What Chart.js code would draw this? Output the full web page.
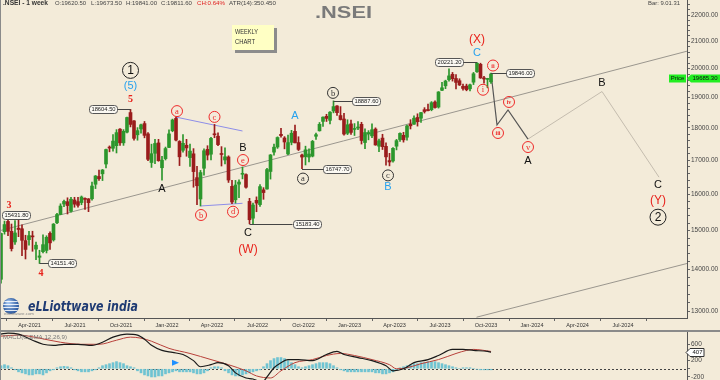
<!DOCTYPE html>
<html><head><meta charset="utf-8">
<script src="https://cdn.jsdelivr.net/npm/chart.js@4.4.0/dist/chart.umd.min.js"></script>
<style>
html,body{margin:0;padding:0;background:#f3ebd9;width:720px;height:380px;overflow:hidden;}
#c1{position:absolute;left:0;top:0;}
#c2{position:absolute;left:0;top:330px;}
</style></head><body>
<canvas id="c1" width="720" height="330"></canvas>
<canvas id="c2" width="720" height="50"></canvas>
<script>
// ---------- DATA ----------
const weeks = ['2021-02-01','2021-02-08','2021-02-15','2021-02-22','2021-03-01','2021-03-08','2021-03-15','2021-03-22','2021-03-29','2021-04-05','2021-04-12','2021-04-19','2021-04-26','2021-05-03','2021-05-10','2021-05-17','2021-05-24','2021-05-31','2021-06-07','2021-06-14','2021-06-21','2021-06-28','2021-07-05','2021-07-12','2021-07-19','2021-07-26','2021-08-02','2021-08-09','2021-08-16','2021-08-23','2021-08-30','2021-09-06','2021-09-13','2021-09-20','2021-09-27','2021-10-04','2021-10-11','2021-10-18','2021-10-25','2021-11-01','2021-11-08','2021-11-15','2021-11-22','2021-11-29','2021-12-06','2021-12-13','2021-12-20','2021-12-27',
'2022-01-03','2022-01-10','2022-01-17','2022-01-24','2022-01-31','2022-02-07','2022-02-14','2022-02-21','2022-02-28','2022-03-07','2022-03-14','2022-03-21','2022-03-28','2022-04-04','2022-04-11','2022-04-18','2022-04-25','2022-05-02','2022-05-09','2022-05-16','2022-05-23','2022-05-30','2022-06-06','2022-06-13','2022-06-20','2022-06-27','2022-07-04','2022-07-11','2022-07-18','2022-07-25','2022-08-01','2022-08-08','2022-08-15','2022-08-22','2022-08-29','2022-09-05','2022-09-12','2022-09-19','2022-09-26','2022-10-03','2022-10-10','2022-10-17','2022-10-24','2022-10-31','2022-11-07','2022-11-14','2022-11-21','2022-11-28','2022-12-05','2022-12-12','2022-12-19','2022-12-26',
'2023-01-02','2023-01-09','2023-01-16','2023-01-23','2023-01-30','2023-02-06','2023-02-13','2023-02-20','2023-02-27','2023-03-06','2023-03-13','2023-03-20','2023-03-27','2023-04-03','2023-04-10','2023-04-17','2023-04-24','2023-05-01','2023-05-08','2023-05-15','2023-05-22','2023-05-29','2023-06-05','2023-06-12','2023-06-19','2023-06-26','2023-07-03','2023-07-10','2023-07-17','2023-07-24','2023-07-31','2023-08-07','2023-08-14','2023-08-21','2023-08-28','2023-09-04','2023-09-11','2023-09-18','2023-09-25','2023-10-02','2023-10-09'];

const openP = [13758,14973,15247,14982,14702,15065,15050,14736,14761,14837,14516,14306,14449,14481,14928,14756,15211,15437,15725,15791,15525,15839,15793,15766,15877,15870,15874,16288,16514,16593,16884,17400,17363,17443,17963,17531,17867,18500,18229,17783,17967,18141,17812,16929,17209,17529,16773,17046,
17388,17913,18308,17575,17301,17456,17077,17193,16481,15868,16757,17329,17181,17810,17740,17183,17006,17097,16227,15845,16290,16579,16570,15800,15335,15830,15710,16127,16151,16662,17244,17401,17797,17683,17188,17546,17891,17540,17157,17102,17094,17122,17737,17910,18212,18376,18246,18552,18719,18402,18289,17831,
18131,17953,17999,18118,17541,17818,17750,17965,17428,17680,17422,16988,16977,17427,17634,17767,17707,18125,18120,18339,18315,18594,18600,18595,18849,18682,19246,19400,19612,19800,19654,19576,19383,19393,19298,19526,19890,20156,19675,19622,19539];
const highP = [14932,15257,15431.8,15177,15273,15336,15155,14878,14984,14984,14697,14486,14890,14864,14967,15190,15469,15733,15835,15901,15915,15915,15915,15952,15900,15879,16349,16543,16701,16722,17340,17436,17793,17947,17977,17948,18350,18604.5,18242,18012,18123,18210,17857,17490,17640,17640,17118,17400,
17944,18286,18351,17599,17794,17640,17490,17352,16816,16694,17344,17442,17703,18115,17842,17414,17378,17132,16404,16400,16415,16794,16594,15886,15749,15927,16275,16190,16752,17172,17490,17719,17992,17726,17777,17925,18096,17722,17187,17428,17348,17607,17838,18176,18363,18443,18529,18887.6,18728,18697,18473,18265,
18252,18142,18202,18183,17972,17916,18134,18005,17645,17800,17529,17207,17381,17639,17842,17863,18090,18267,18389,18459,18508,18662,18777,18864,18887,19202,19524,19595,19991,19867,19795,19645,19458,19458,19458,19867,20221.2,20195,19730,19661,19846];
const lowP = [13661,14906,14865,14467,14636,14840,14350,14264,14617,14460,14248,14151.4,14416,14417,14506,14724,15190,15430,15649,15450,15500,15636,15635,15706,15578,15514,15834,16163,16396,16395,16765,17254,17270,17219,17452,17452,17839,18034,17613,17613,17836,17688,16983,16782,16891,16966,16410,17005,
17384,17880,17590,16837,17244,17119,16810,16203,15711,15671,16555,17006,17004,17691,17443,16824,16888,16340,15735,15750,15903,16444,16172,15183.4,15184,15512,15661,15858,16143,16438,17154,17359,17710,17345,17167,17469,17531,17292,16747.7,16855,16950,17098,17637,17900,18048,18209,18133,18490,18410,18255,17774,17789,
17796,17761,17950,17494,17353,17625,17690,17455,17255,17324,16851,16828,16940,17313,17573,17553,17613,17969,18116,18060,18178,18483,18550,18558,18647,18647,19236,19302,19562,19563,19296,19412,19254,19229,19223,19443,19865,19657,19492,19333,19480];
const closeP = [14924,15163,14982,14529,14938,15031,14744,14507,14867,14835,14617,14341,14631,14823,14677,15175,15436,15670,15799,15683,15860,15722,15690,15923,15856,15763,16238,16529,16450,16705,17324,17369,17585,17853,17532,17895,18338,18114,17671,17916,18102,17765,17026,17196,17511,16985,17003,17354,
17812,18256,17617,17102,17516,17374,17276,16658,16245,16630,17287,17153,17670,17784,17476,17172,17102,16411,15782,16266,16352,16584,16202,15293,15699,15752,16220,16049,16719,17158,17397,17698,17758,17558,17539,17833,17531,17327,17094,17315,17186,17576,17787,18117,18350,18308,18513,18697,18497,18270,17807,18105,
17859,17957,18028,17604,17854,17856,17944,17466,17594,17413,17100,16945,17360,17600,17828,17624,18065,18069,18315,18203,18499,18534,18563,18826,18666,19189,19332,19565,19745,19646,19517,19428,19310,19266,19435,19820,20193,19674,19638,19654,19812];

const quarterDates = ['2021-04-01','2021-07-01','2021-10-01','2022-01-01','2022-04-01','2022-07-01','2022-10-01','2023-01-01','2023-04-01','2023-07-01','2023-10-01','2024-01-01','2024-04-01','2024-07-01','2024-10-01'];
const quarterLabels = ['Apr-2021','Jul-2021','Oct-2021','Jan-2022','Apr-2022','Jul-2022','Oct-2022','Jan-2023','Apr-2023','Jul-2023','Oct-2023','Jan-2024','Apr-2024','Jul-2024',''];
const priceLabelTicks = [13000,14000,15000,16000,17000,18000,19000,20000,21000,22000];
const lastPrice = 19685.30;

// projected path (wave iii, iv, v/A, B, C)
const projDates  = ['2023-10-11','2023-10-23','2023-11-14','2023-12-24','2024-05-20','2024-09-11'];
const projPrices = [19846,18096,18585,17650,19204,16494];
// trend lines
const upperTrendDates = ['2021-02-01','2024-11-06'], upperTrendPrices = [15000,20630];
const lowerTrendDates = ['2023-09-12','2024-11-06'], lowerTrendPrices = [12862,14150];
const triTopDates = ['2022-01-19','2022-06-01'], triTopPrices = [18351,17904];
const triBotDates = ['2022-03-09','2022-06-01'], triBotPrices = [15671,15746];

// MACD panel
const macdHist = [75,100,75,25,-25,-75,-100,-125,-150,-150,-125,-125,-150,-100,-50,-25,25,50,60,50,25,-25,-50,-75,-75,-75,-50,-25,25,75,100,125,150,175,150,125,75,50,25,-50,-100,-150,-175,-200,-200,-175,-175,-125,-100,-75,-50,-75,-75,-75,-75,-100,-125,-125,-100,-50,25,50,50,25,-50,-100,-150,-175,-175,-150,-125,-100,-75,-50,-25,50,125,200,250,275,275,250,200,150,100,50,25,50,75,100,125,150,150,150,125,75,25,-25,-50,-75,-75,-75,-75,-75,-75,-75,-75,-100,-100,-125,-125,-100,-75,-25,25,50,75,100,125,125,150,150,175,175,175,150,125,100,75,50,25,0,25,25,25,0,-10,-25,-25,-25,-25];
const macdWeekIdx = [0,2,5,9,12,15,18,22,26,29,32,36,39,41,43,46,49,52,55,57,60,62,65,67,70,72,74,75,76,78,80,82,85,89,93,96,98,102,106,110,112,115,118,122,125,129,132,135,139,140];
const macdValues  = [850,875,850,700,600,575,600,600,575,650,775,850,825,725,575,450,400,350,200,50,100,150,75,-100,-225,-250,-310,-300,-200,25,150,225,225,200,350,425,350,275,200,75,-50,0,150,225,325,475,475,450,425,407];
const signalWeekIdx = [0,5,11,17,23,28,33,37,40,43,48,54,60,65,70,73,77,80,84,89,93,97,101,106,111,113,116,120,125,130,133,135,140];
const signalValues  = [800,825,750,650,600,600,700,775,750,675,500,375,225,100,-50,-175,-225,-50,150,225,325,375,325,225,100,0,25,125,225,375,450,475,425];
const macdLast = 407;
const macdLabelTicks = [-200,200,600];

// ---------- HELPERS ----------
const dayOf = s => { const [y,m,d] = s.split('-').map(Number); return (Date.UTC(y,m-1,d) - Date.UTC(2021,0,1)) / 864e5; };
const xDay = weeks.map(w => dayOf(w) + 2);
const X_MIN = 31, X_MAX = 1405;
const GREEN = '#2c962c', RED = '#9a1c1c';
const candleColors = openP.map((o,i) => closeP[i] >= o ? GREEN : RED);
const pts = (ds, vs) => ds.map((d,i) => ({x: dayOf(d), y: vs[i]}));

function fitText(ctx, txt, x, y, font, w, color) {
  ctx.save(); ctx.font = font;
  const m = ctx.measureText(txt).width || 1;
  ctx.translate(x, y); ctx.scale(w / m, 1);
  ctx.fillStyle = color; ctx.textAlign = 'left'; ctx.textBaseline = 'middle';
  ctx.fillText(txt, 0, 0); ctx.restore();
}
function zeroPad(s){ s.paddingTop=0; s.paddingBottom=0; s.paddingLeft=0; s.paddingRight=0; }

// ---------- ANNOTATIONS ----------
const waveLabels = [
  {t:'3', s:'num', i:2, at:'H', dx:1, dy:-9},
  {t:'4', s:'num', i:11, at:'L', dx:1.5, dy:9.5},
  {t:'5', s:'num', i:37, at:'H', dx:0, dy:-10},
  {t:'(5)', s:'blue', i:37, at:'H', dx:0, dy:-23},
  {t:'1', s:'big', i:37, at:'H', dx:0, dy:-39},
  {t:'A', s:'blk', i:46, at:'L', dx:0, dy:9},
  {t:'a', s:'cr', i:50, at:'H', dx:1, dy:-6},
  {t:'b', s:'cr', i:57, at:'L', dx:0.5, dy:9},
  {t:'c', s:'cr', i:61, at:'H', dx:0, dy:-7.5},
  {t:'d', s:'cr', i:66, at:'L', dx:1, dy:8},
  {t:'e', s:'cr', i:69, at:'H', dx:0.5, dy:-7},
  {t:'B', s:'blk', i:69, at:'H', dx:0.5, dy:-19},
  {t:'C', s:'blk', i:71, at:'L', dx:-1.5, dy:9},
  {t:'(W)', s:'red', i:71, at:'L', dx:-1.5, dy:26},
  {t:'A', s:'blue', i:84, at:'H', dx:0, dy:-9},
  {t:'a', s:'cb', i:86, at:'L', dx:1, dy:10},
  {t:'b', s:'cb', i:95, at:'H', dx:-0.5, dy:-8},
  {t:'c', s:'cb', i:111, at:'L', dx:-1.5, dy:9.5},
  {t:'B', s:'blue', i:111, at:'L', dx:-1.5, dy:21},
  {t:'(X)', s:'red', i:136, at:'H', dx:0, dy:-23},
  {t:'C', s:'blue', i:136, at:'H', dx:0, dy:-10},
  {t:'i', s:'cr', i:139, at:'L', dx:-4.5, dy:2},
  {t:'ii', s:'cr', i:140, at:'H', dx:2, dy:-7.5},
  {t:'iii', s:'cr', p:1, dx:1, dy:8},
  {t:'iv', s:'cr', p:2, dx:1, dy:-8},
  {t:'v', s:'cr', p:3, dx:0, dy:8},
  {t:'A', s:'blk', p:3, dx:0, dy:22},
  {t:'B', s:'blk', p:4, dx:0, dy:-9},
  {t:'C', s:'blk', p:5, dx:-1, dy:8},
  {t:'(Y)', s:'red', p:5, dx:-1, dy:24},
  {t:'2', s:'big', p:5, dx:-1, dy:40}
];
const priceBoxes = [
  {i:2, at:'H', left:-6, lead:false},
  {i:11, at:'L', left:8.5, lead:true},
  {i:37, at:'H', right:-13.5, lead:true},
  {i:71, at:'L', left:43, lead:true},
  {i:86, at:'L', left:21, lead:true},
  {i:95, at:'H', left:18.5, lead:true},
  {i:136, at:'H', right:-14, lead:true},
  {i:140, at:'H', left:15, lead:true}
];

function drawLabel(ctx, L, x, y) {
  const red = '#e8231c', blue = '#27a2ee';
  ctx.textAlign = 'center'; ctx.textBaseline = 'middle';
  if (L.s === 'num') { ctx.font = 'bold 10px "Liberation Serif"'; ctx.fillStyle = red; ctx.fillText(L.t, x, y); }
  else if (L.s === 'blk') { ctx.font = '11px "Liberation Sans"'; ctx.fillStyle = '#111'; ctx.fillText(L.t, x, y); }
  else if (L.s === 'blue') { ctx.font = '11px "Liberation Sans"'; ctx.fillStyle = blue; ctx.fillText(L.t, x, y); }
  else if (L.s === 'red') { ctx.font = '12px "Liberation Sans"'; ctx.fillStyle = red; ctx.fillText(L.t, x, y); }
  else if (L.s === 'cr' || L.s === 'cb') {
    const c = L.s === 'cr' ? '#ee2a2a' : '#333';
    ctx.beginPath(); ctx.arc(x, y, 5.5, 0, Math.PI*2); ctx.strokeStyle = c; ctx.lineWidth = 1; ctx.stroke();
    ctx.fillStyle = c;
    ctx.font = (L.t.length > 1 ? 'bold 6px' : '8.5px') + ' "Liberation Serif"';
    ctx.fillText(L.t, x, y + 0.5);
  } else if (L.s === 'big') {
    ctx.beginPath(); ctx.arc(x, y, 8, 0, Math.PI*2); ctx.strokeStyle = '#222'; ctx.lineWidth = 1; ctx.stroke();
    ctx.fillStyle = '#111'; ctx.font = '12px "Liberation Sans"'; ctx.fillText(L.t, x, y + 0.5);
  }
}

const overlay = {
  id: 'overlay',
  afterDatasetsDraw(chart) {
    const ctx = chart.ctx, xs = chart.scales.x, ys = chart.scales.y;
    const cx = i => xs.getPixelForValue(xDay[i]);
    const yv = p => ys.getPixelForValue(p);
    ctx.save();
    // price boxes
    priceBoxes.forEach(b => {
      const val = b.at === 'H' ? highP[b.i] : lowP[b.i];
      const x0 = cx(b.i), y0 = yv(val);
      const w = 28, h = 8;
      const bx = b.left !== undefined ? x0 + b.left : x0 + b.right - w;
      if (b.lead) {
        ctx.beginPath(); ctx.strokeStyle = '#444'; ctx.lineWidth = 1;
        const ex = b.left !== undefined ? bx : bx + w;
        ctx.moveTo(x0, Math.round(y0) + 0.5); ctx.lineTo(ex, Math.round(y0) + 0.5); ctx.stroke();
      }
      ctx.beginPath(); ctx.roundRect(Math.round(bx) + 0.5, Math.round(y0 - h/2) + 0.5, w, h, 3);
      ctx.fillStyle = '#fbf9f3'; ctx.fill(); ctx.strokeStyle = '#555'; ctx.lineWidth = 1; ctx.stroke();
      ctx.fillStyle = '#222'; ctx.font = '5.8px "Liberation Sans"'; ctx.textAlign = 'center'; ctx.textBaseline = 'middle';
      ctx.fillText(val.toFixed(2), Math.round(bx) + 0.5 + w/2, Math.round(y0 - h/2) + 0.5 + h/2 + 0.3);
    });
    // wave labels
    waveLabels.forEach(L => {
      let x, y;
      if (L.p !== undefined) { x = xs.getPixelForValue(dayOf(projDates[L.p])); y = yv(projPrices[L.p]); }
      else { x = cx(L.i); y = yv(L.at === 'H' ? highP[L.i] : lowP[L.i]); }
      drawLabel(ctx, L, x + L.dx, y + L.dy);
    });
    ctx.restore();
  },
  afterDraw(chart) {
    const ctx = chart.ctx, ys = chart.scales.y, area = chart.chartArea;
    ctx.save();
    // left border
    ctx.strokeStyle = '#8a8a8a'; ctx.lineWidth = 1;
    ctx.beginPath(); ctx.moveTo(0.5, 0); ctx.lineTo(0.5, 330); ctx.stroke();
    // header
    fitText(ctx, '.NSEI - 1 week', 3, 3.5, 'bold 6.5px "Liberation Sans"', 45, '#333');
    const hdr = [['O:19620.50',55,31,'#444'],['L:19673.50',91,31,'#444'],['H:19841.00',126,31,'#444'],['C:19811.60',161,31,'#444'],['CH:0.64%',197,28,'#e02020'],['ATR(14):350.450',229,47,'#444']];
    hdr.forEach(h => fitText(ctx, h[0], h[1], 3.5, '6px "Liberation Sans"', h[2], h[3]));
    fitText(ctx, 'Bar: 9.01.31', 648, 3, '6px "Liberation Sans"', 32, '#444');
    // title
    fitText(ctx, '.NSEI', 315, 13.5, 'bold 17px "Liberation Sans"', 57, '#7a7a7a');
    // weekly chart note
    ctx.fillStyle = '#8c8c8c'; ctx.fillRect(235, 28, 42, 25);
    ctx.fillStyle = '#ffffc4'; ctx.fillRect(232, 25, 42, 25);
    fitText(ctx, 'WEEKLY', 235, 32, '8px "Liberation Sans"', 23, '#333');
    fitText(ctx, 'CHART', 235, 42, '8px "Liberation Sans"', 20, '#333');
    // logo
    const g = ctx.createRadialGradient(8, 302, 1, 11, 306, 9);
    g.addColorStop(0, '#a8c8f0'); g.addColorStop(1, '#1c4b95');
    ctx.beginPath(); ctx.arc(11, 306, 8, 0, Math.PI*2); ctx.fillStyle = g; ctx.fill();
    ctx.save(); ctx.beginPath(); ctx.arc(11, 306, 8, 0, Math.PI*2); ctx.clip();
    ctx.strokeStyle = 'rgba(255,255,255,0.85)'; ctx.lineWidth = 1;
    [301.5, 304.5, 307.5, 310.5].forEach(yy => { ctx.beginPath(); ctx.moveTo(2, yy); ctx.lineTo(20, yy); ctx.stroke(); });
    ctx.restore();
    fitText(ctx, 'eLLiottwave india', 28, 307, 'italic bold 14px "DejaVu Sans"', 110, '#1f3b73');
    fitText(ctx, 'elliottwave.com', 4, 313.5, '4px "Liberation Sans"', 30, '#8a8a8a');
    // last price tag
    const py = Math.round(ys.getPixelForValue(lastPrice));
    ctx.fillStyle = '#22ee22';
    ctx.fillRect(669, py - 3.5, 17, 8);
    ctx.beginPath(); ctx.moveTo(687, py + 0.5); ctx.lineTo(691, py - 3.5); ctx.lineTo(720, py - 3.5); ctx.lineTo(720, py + 4.5); ctx.lineTo(691, py + 4.5); ctx.closePath(); ctx.fill();
    ctx.fillStyle = '#111'; ctx.font = '6px "Liberation Sans"'; ctx.textAlign = 'center'; ctx.textBaseline = 'middle';
    ctx.fillText('Price', 677.5, py + 0.7);
    ctx.fillText(lastPrice.toFixed(2), 705, py + 0.7);
    ctx.restore();
  }
};

// ---------- PRICE CHART ----------
Chart.defaults.font.family = '"Liberation Sans", Arial, sans-serif';
const lineDs = (data, color, w, order) => ({type:'line', data, borderColor: color, borderWidth: w, pointRadius: 0, tension: 0, fill: false, order});

new Chart(document.getElementById('c1'), {
  type: 'bar',
  data: { datasets: [
    {type:'bar', data: xDay.map((x,i) => ({x, y:[openP[i], closeP[i]]})), backgroundColor: candleColors, barThickness: 3, grouped: false, minBarLength: 1, borderWidth: 0, order: 1},
    {type:'bar', data: xDay.map((x,i) => ({x, y:[lowP[i], highP[i]]})), backgroundColor: candleColors, barThickness: 1, grouped: false, borderWidth: 0, order: 2},
    lineDs(pts(upperTrendDates, upperTrendPrices), '#9a968e', 1, 5),
    lineDs(pts(lowerTrendDates, lowerTrendPrices), '#9a968e', 1, 5),
    lineDs(pts(triTopDates, triTopPrices), '#8d8de8', 1, 5),
    lineDs(pts(triBotDates, triBotPrices), '#8d8de8', 1, 5),
    lineDs(pts(projDates.slice(0,4), projPrices.slice(0,4)), '#555', 1.2, 4),
    lineDs(pts(projDates.slice(3), projPrices.slice(3)), '#c4bcae', 1, 4)
  ]},
  options: {
    responsive: false, animation: false, devicePixelRatio: 1,
    layout: { padding: 0 },
    plugins: { legend: {display:false}, tooltip: {enabled:false} },
    scales: {
      x: {
        type: 'linear', min: X_MIN, max: X_MAX, bounds: 'data', offset: false,
        afterBuildTicks: s => { s.ticks = quarterDates.map(d => ({value: dayOf(d)})); },
        afterFit: s => { s.height = 12; zeroPad(s); },
        ticks: { autoSkip: false, maxRotation: 0, padding: 1, color: '#333', font: {size: 5.5},
                 callback: (v, i) => quarterLabels[i] },
        grid: { drawOnChartArea: false, drawTicks: true, tickLength: 3, color: '#666' },
        border: { display: true, color: '#555', width: 1 }
      },
      y: {
        type: 'logarithmic', position: 'right', min: 12844, max: 22594, bounds: 'data',
        afterBuildTicks: s => { const t = []; for (let v = 13000; v <= 22400; v += 200) t.push({value: v}); s.ticks = t; },
        afterFit: s => { s.width = 33; zeroPad(s); },
        ticks: { autoSkip: false, padding: 1, color: '#444', font: {size: 6.5},
                 callback: v => priceLabelTicks.includes(v) ? v.toFixed(2) : '' },
        grid: { drawOnChartArea: false, drawTicks: true, tickLength: 3, color: '#666' },
        border: { display: true, color: '#555', width: 1 }
      }
    }
  },
  plugins: [overlay]
});

// ---------- MACD CHART ----------
const macdOverlay = {
  id: 'macdOverlay',
  beforeDatasetsDraw(chart) {
    const ctx = chart.ctx, ys = chart.scales.y;
    const y0 = Math.round(ys.getPixelForValue(0)) + 0.5;
    ctx.save(); ctx.strokeStyle = '#444'; ctx.lineWidth = 1; ctx.setLineDash([2, 2]);
    ctx.beginPath(); ctx.moveTo(0, y0); ctx.lineTo(687, y0); ctx.stroke(); ctx.restore();
  },
  afterDraw(chart) {
    const ctx = chart.ctx, xs = chart.scales.x, ys = chart.scales.y;
    ctx.save();
    ctx.fillStyle = '#8a8a8a'; ctx.fillRect(0, 0, 720, 2);
    ctx.strokeStyle = '#8a8a8a'; ctx.lineWidth = 1;
    ctx.beginPath(); ctx.moveTo(0.5, 0); ctx.lineTo(0.5, 50); ctx.stroke();
    fitText(ctx, 'MACD(C,EMA,12,26,9)', 3, 7.5, '6px "Liberation Sans"', 64, '#777');
    // blue marker
    const mx = xs.getPixelForValue(xDay[50]), my = ys.getPixelForValue(150);
    ctx.fillStyle = '#1e90ff'; ctx.beginPath();
    ctx.moveTo(mx - 4, my - 3); ctx.lineTo(mx + 3, my); ctx.lineTo(mx - 4, my + 3); ctx.closePath(); ctx.fill();
    // last value box
    const py = Math.round(ys.getPixelForValue(macdLast));
    ctx.beginPath(); ctx.moveTo(686, py + 0.5); ctx.lineTo(690, py - 3.5); ctx.lineTo(704, py - 3.5); ctx.lineTo(704, py + 4.5); ctx.lineTo(690, py + 4.5); ctx.closePath();
    ctx.fillStyle = '#ffffff'; ctx.fill(); ctx.strokeStyle = '#333'; ctx.stroke();
    ctx.fillStyle = '#111'; ctx.font = '6px "Liberation Sans"'; ctx.textAlign = 'center'; ctx.textBaseline = 'middle';
    ctx.fillText(String(macdLast), 697.5, py + 0.7);
    ctx.restore();
  }
};

new Chart(document.getElementById('c2'), {
  type: 'bar',
  data: { datasets: [
    {type:'line', data: macdWeekIdx.map((w,k) => ({x: xDay[w], y: macdValues[k]})), borderColor: '#1a1a1a', borderWidth: 1.2, pointRadius: 0, cubicInterpolationMode: 'monotone', fill: false, order: 1},
    {type:'line', data: signalWeekIdx.map((w,k) => ({x: xDay[w], y: signalValues[k]})), borderColor: '#b8403a', borderWidth: 1, pointRadius: 0, cubicInterpolationMode: 'monotone', fill: false, order: 2},
    {type:'bar', data: xDay.map((x,i) => ({x, y: macdHist[i]})), backgroundColor: '#6fc3d2', barThickness: 2, grouped: false, borderWidth: 0, order: 3}
  ]},
  options: {
    responsive: false, animation: false, devicePixelRatio: 1,
    layout: { padding: 0 },
    plugins: { legend: {display:false}, tooltip: {enabled:false} },
    scales: {
      x: { type: 'linear', min: X_MIN, max: X_MAX, bounds: 'data', offset: false, display: false },
      y: {
        position: 'right', min: -275, max: 950, bounds: 'data',
        afterBuildTicks: s => { s.ticks = [-200, 0, 200, 400, 600].map(v => ({value: v})); },
        afterFit: s => { s.width = 33; zeroPad(s); },
        ticks: { autoSkip: false, padding: 1, color: '#444', font: {size: 6.5},
                 callback: v => macdLabelTicks.includes(v) ? String(v) : '' },
        grid: { drawOnChartArea: false, drawTicks: true, tickLength: 3, color: '#666' },
        border: { display: true, color: '#555', width: 1 }
      }
    }
  },
  plugins: [macdOverlay]
});
</script>
</body></html>
